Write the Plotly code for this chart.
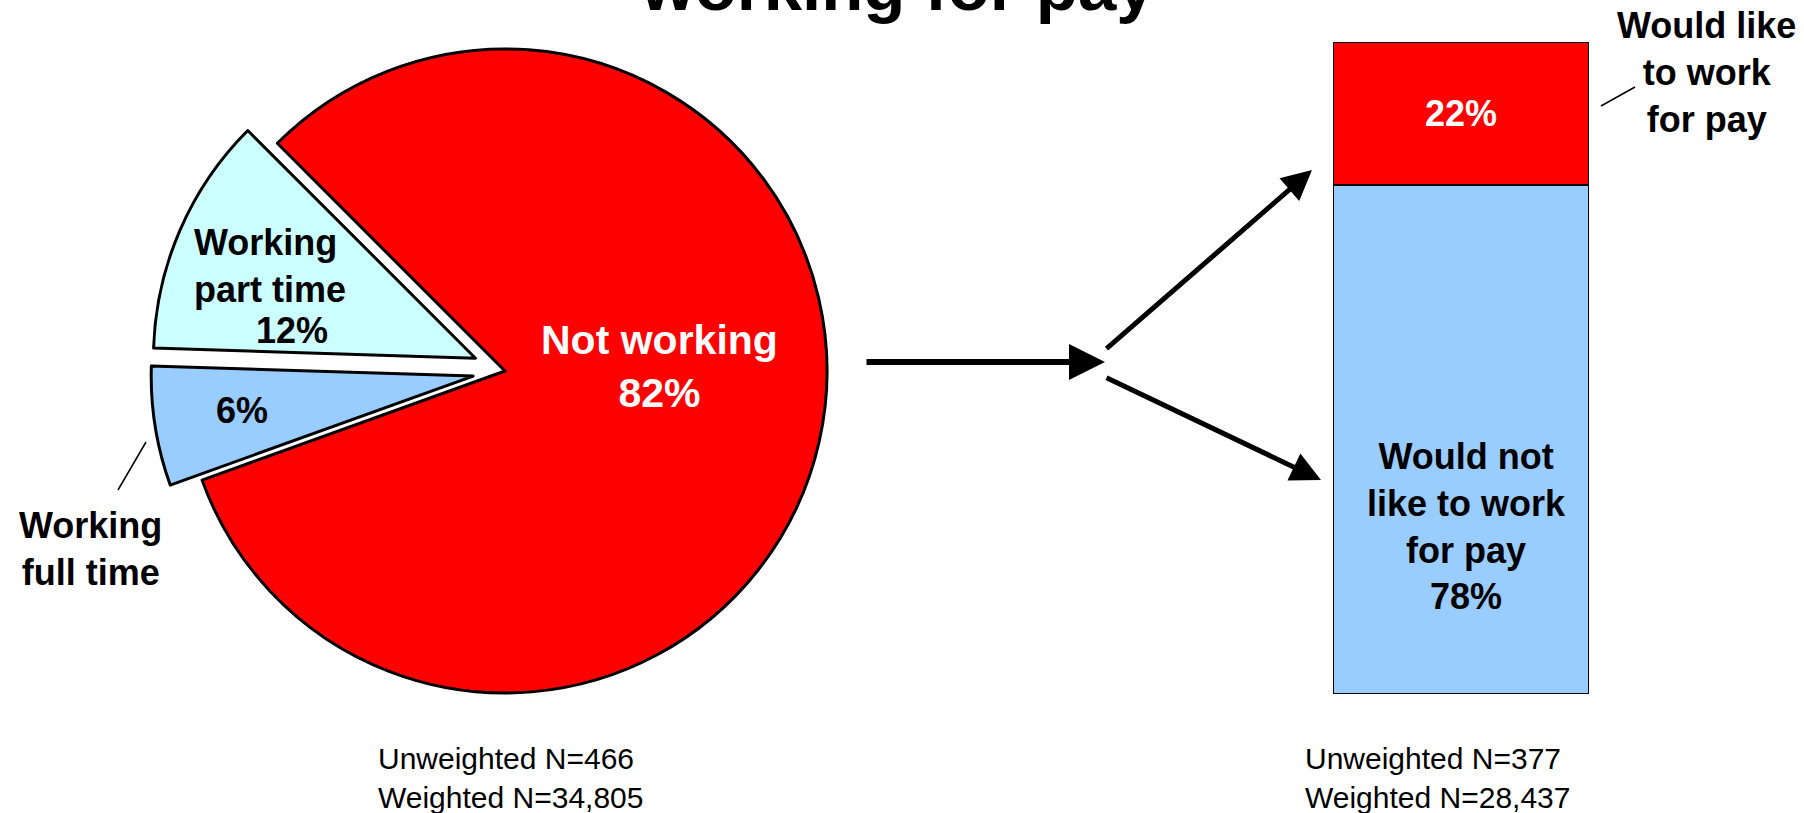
import plotly.graph_objects as go

W, H = 1804, 813

# left pie: current work status
status_labels = ["Not working", "Working full time", "Working part time"]
status_values = [82, 6, 12]
status_colors = ["#FF0000", "#99CCFF", "#CCFFFF"]
status_pull = [0, 0.1, 0.1]

# right bar: those not working, would they like to work for pay
wish_labels = ["Would not like to work for pay", "Would like to work for pay"]
wish_values = [78, 22]
wish_colors = ["#99CCFF", "#FF0000"]

pie_n = ["Unweighted N=466", "Weighted N=34,805"]
bar_n = ["Unweighted N=377", "Weighted N=28,437"]

FONT = "Liberation Sans, Arial, Helvetica, sans-serif"


def px(x):
    return x / W


def py(y):
    return 1 - y / H


# pie placement (pixels)
pie_cx, pie_cy, pie_r = 505, 371, 322
half = pie_r * (1 + max(status_pull))

fig = go.Figure()

fig.add_trace(
    go.Pie(
        labels=status_labels,
        values=status_values,
        pull=status_pull,
        sort=False,
        direction="clockwise",
        rotation=-45,
        marker=dict(colors=status_colors, line=dict(color="black", width=3)),
        textinfo="none",
        hoverinfo="label+percent",
        showlegend=False,
        domain=dict(
            x=[px(pie_cx - half), px(pie_cx + half)],
            y=[py(pie_cy + half), py(pie_cy - half)],
        ),
    )
)

for lab, val, col in zip(wish_labels, wish_values, wish_colors):
    is_top = col == "#FF0000"
    fig.add_trace(
        go.Bar(
            x=[0.5],
            y=[val],
            width=1,
            name=lab,
            marker=dict(color=col, line=dict(color="black", width=2)),
            text=[f"{val}%"] if is_top else None,
            textposition="inside" if is_top else "none",
            insidetextanchor="middle",
            textfont=dict(family=FONT, size=36, color="white", weight="bold"),
            showlegend=False,
        )
    )


def label(x, y, text, size=36, color="black", xanchor="center", align="center", bold=True):
    if bold:
        text = "<b>" + text + "</b>"
    fig.add_annotation(
        x=px(x), y=py(y), xref="paper", yref="paper",
        text=text, showarrow=False,
        xanchor=xanchor, yanchor="middle", align=align,
        font=dict(family=FONT, size=size, color=color),
    )


def arrow(head, tail, width):
    fig.add_annotation(
        x=px(head[0]), y=py(head[1]), xref="paper", yref="paper",
        ax=tail[0] - head[0], ay=tail[1] - head[1],
        text="", showarrow=True,
        arrowhead=2, arrowsize=1.2, arrowwidth=width, arrowcolor="black",
        standoff=0,
    )


label(897, -14, "working for pay", size=69)

label(192, 266, "Working<br>part time", xanchor="left", align="left")
label(292, 330, f"{status_values[2]}%")
label(242, 410, f"{status_values[1]}%")
label(90, 549, "Working<br>full time")
label(659, 366, f"Not working<br>{status_values[0]}%", size=41, color="white")

label(1466, 526, f"Would not<br>like to work<br>for pay<br>{wish_values[0]}%")
label(1706, 72, "Would like<br>to work<br>for pay")

label(376, 778, "<br>".join(pie_n), size=30, xanchor="left", align="left", bold=False)
label(1303, 778, "<br>".join(bar_n), size=30, xanchor="left", align="left", bold=False)

arrow((1105, 362), (865, 362), 6)
arrow((1312, 170), (1105, 350), 5)
arrow((1321, 480), (1105, 377), 5)

# leader lines
fig.add_shape(type="line", xref="paper", yref="paper",
              x0=px(146), y0=py(442), x1=px(118), y1=py(490),
              line=dict(color="black", width=1.5))
fig.add_shape(type="line", xref="paper", yref="paper",
              x0=px(1601), y0=py(106), x1=px(1635), y1=py(87),
              line=dict(color="black", width=1.5))

fig.update_layout(
    width=W,
    height=H,
    barmode="stack",
    margin=dict(l=0, r=0, t=0, b=0),
    paper_bgcolor="white",
    plot_bgcolor="white",
    font=dict(family=FONT),
    xaxis=dict(domain=[px(1333), px(1589)], range=[0, 1], visible=False, fixedrange=True),
    yaxis=dict(domain=[py(694), py(42)], range=[0, 100], visible=False, fixedrange=True),
)

# drop the page's default body margin so the figure fills the window exactly
fig.write_html(
    "out.html",
    config={"displayModeBar": False},
    post_script="document.body.style.margin='0px';document.body.style.overflow='hidden';",
)
